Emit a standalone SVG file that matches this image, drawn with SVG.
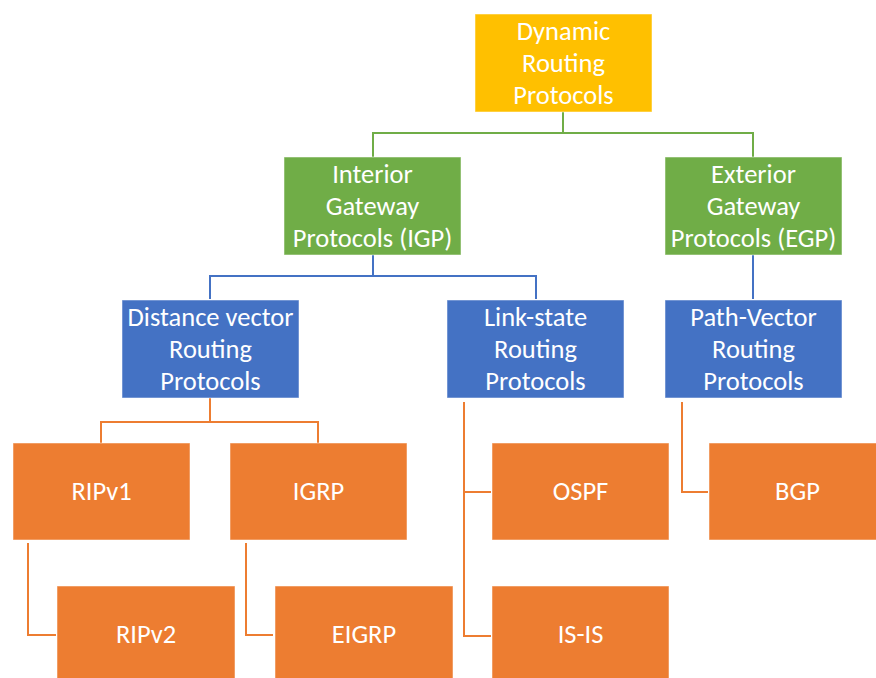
<svg xmlns="http://www.w3.org/2000/svg" width="876" height="678" viewBox="0 0 876 678">
  <style>
    .box { stroke: #ffffff; stroke-width: 1; stroke-opacity: 0.5; }
    .yellow { fill: #FFC000; }
    .green { fill: #70AD47; }
    .blue { fill: #4472C4; }
    .orange { fill: #ED7D31; }
    .lbl { font-family: Carlito, "Liberation Sans Narrow", "Open Sans", sans-serif; font-size: 26.5px; fill: #ffffff; text-anchor: middle; dominant-baseline: central; }
    .c-green { stroke: #70AD47; stroke-width: 2; fill: none; }
    .c-blue { stroke: #4472C4; stroke-width: 2; fill: none; }
    .c-orange { stroke: #ED7D31; stroke-width: 2; fill: none; }
  </style>
  <rect width="876" height="678" fill="#ffffff"/>

  <g id="connectors">
    <path class="c-green" d="M563 112 V133 M373 157 V133 H753 V157"/>
    <path class="c-blue" d="M373 255 V276 M210 299 V276 H536 V299"/>
    <path class="c-blue" d="M753 255 V299"/>
    <path class="c-orange" d="M210 398 V422 M101 443 V422 H318 V443"/>
    <path class="c-orange" d="M28 543 V635 H56"/>
    <path class="c-orange" d="M246 543 V635 H273"/>
    <path class="c-orange" d="M464 402 V636 H491 M464 492 H491"/>
    <path class="c-orange" d="M682 402 V492 H708"/>
  </g>

  <g id="dynamic-routing">
    <rect class="box yellow" x="475" y="14" width="177" height="98"/>
    <text class="lbl" x="563.5" y="31">Dynamic</text>
    <text class="lbl" x="563.5" y="63">Routing</text>
    <text class="lbl" x="563.5" y="95">Protocols</text>
  </g>

  <g id="igp">
    <rect class="box green" x="284" y="157" width="177" height="98"/>
    <text class="lbl" x="372.5" y="174">Interior</text>
    <text class="lbl" x="372.5" y="206">Gateway</text>
    <text class="lbl" x="372.5" y="238">Protocols (IGP)</text>
  </g>

  <g id="egp">
    <rect class="box green" x="665" y="157" width="177" height="98"/>
    <text class="lbl" x="753.5" y="174">Exterior</text>
    <text class="lbl" x="753.5" y="206">Gateway</text>
    <text class="lbl" x="753.5" y="238">Protocols (EGP)</text>
  </g>

  <g id="distance-vector">
    <rect class="box blue" x="122" y="300" width="177" height="98"/>
    <text class="lbl" x="210.5" y="317">Distance vector</text>
    <text class="lbl" x="210.5" y="349">Routing</text>
    <text class="lbl" x="210.5" y="381">Protocols</text>
  </g>

  <g id="link-state">
    <rect class="box blue" x="447" y="300" width="177" height="98"/>
    <text class="lbl" x="535.5" y="317">Link-state</text>
    <text class="lbl" x="535.5" y="349">Routing</text>
    <text class="lbl" x="535.5" y="381">Protocols</text>
  </g>

  <g id="path-vector">
    <rect class="box blue" x="665" y="300" width="177" height="98"/>
    <text class="lbl" x="753.5" y="317">Path-Vector</text>
    <text class="lbl" x="753.5" y="349">Routing</text>
    <text class="lbl" x="753.5" y="381">Protocols</text>
  </g>

  <g id="ripv1">
    <rect class="box orange" x="13" y="443" width="177" height="97"/>
    <text class="lbl" x="101.5" y="491">RIPv1</text>
  </g>

  <g id="igrp">
    <rect class="box orange" x="230" y="443" width="177" height="97"/>
    <text class="lbl" x="318.5" y="491">IGRP</text>
  </g>

  <g id="ospf">
    <rect class="box orange" x="492" y="443" width="177" height="97"/>
    <text class="lbl" x="580.5" y="491">OSPF</text>
  </g>

  <g id="bgp">
    <rect class="box orange" x="709" y="443" width="177" height="97"/>
    <text class="lbl" x="797.5" y="491">BGP</text>
  </g>

  <g id="ripv2">
    <rect class="box orange" x="57" y="586" width="178" height="97"/>
    <text class="lbl" x="146" y="634">RIPv2</text>
  </g>

  <g id="eigrp">
    <rect class="box orange" x="275" y="586" width="178" height="97"/>
    <text class="lbl" x="364" y="634">EIGRP</text>
  </g>

  <g id="is-is">
    <rect class="box orange" x="492" y="586" width="177" height="97"/>
    <text class="lbl" x="580.5" y="634">IS-IS</text>
  </g>
</svg>
